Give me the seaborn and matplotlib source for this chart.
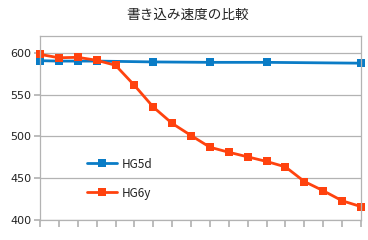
import matplotlib
matplotlib.use("Agg")
import matplotlib.pyplot as plt
import seaborn as sns
import pandas as pd
import numpy as np

title = "書き込み速度の比較"
series_names = ["HG5d", "HG6y"]
hg5d_x = [0, 1, 2, 3, 6, 9, 12, 17]
hg5d_y = [590.5, 590, 590, 590, 589, 588.5, 588.5, 587.5]
hg6y_x = list(range(18))
hg6y_y = [598, 594, 594.5, 591, 585, 561, 535, 515.5, 501, 487,
          481, 475.5, 470, 463.5, 446, 435, 423, 416]
y_ticks = [400, 450, 500, 550, 600]

sns.set_theme(style="white")
plt.rcParams['font.family'] = ['Noto Sans CJK JP', 'DejaVu Sans']

fig = plt.figure(figsize=(3.68, 2.40), dpi=100)
ax = fig.add_axes([40/368, 1-220/240, (361-40)/368, (220-36)/240])

df = pd.concat([
    pd.DataFrame({"x": hg5d_x, "y": hg5d_y, "s": series_names[0]}),
    pd.DataFrame({"x": hg6y_x, "y": hg6y_y, "s": series_names[1]}),
])
palette = {series_names[0]: "#0a7cc6", series_names[1]: "#ff420e"}
sns.lineplot(data=df, x="x", y="y", hue="s", palette=palette, marker="s",
             markersize=5.5, markeredgewidth=0, linewidth=2.0, ax=ax,
             legend=True, clip_on=False)

ax.set_xlim(0, 17)
ax.set_ylim(400, 620)
ax.set_yticks(y_ticks)
ax.set_xticks(range(18))
ax.set_xticklabels([])
ax.set_xlabel("")
ax.set_ylabel("")
ax.yaxis.grid(True, color="#b3b3b3", linewidth=0.9)
ax.set_axisbelow(True)
for sp in ax.spines.values():
    sp.set_color("#b3b3b3")
    sp.set_linewidth(0.9)
ax.tick_params(axis="y", length=4, color="#b3b3b3", labelsize=8, pad=2,
               left=True, labelcolor="#222222")
ax.tick_params(axis="x", length=5, color="#b3b3b3", bottom=True)
for lbl in ax.get_yticklabels():
    lbl.set_family(['DejaVu Sans'])

leg = ax.legend(loc="upper left", bbox_to_anchor=(76/368, 1-147/240),
                bbox_transform=fig.transFigure, frameon=False,
                fontsize=8.5, handlelength=2.6, labelspacing=1.35,
                handletextpad=0.4)
for t in leg.get_texts():
    t.set_color("#222222")

fig.text(188/368, 1-15/240, title, ha="center", va="center", fontsize=9.8,
         color="#222222")

fig.savefig("out.png", dpi=100)
